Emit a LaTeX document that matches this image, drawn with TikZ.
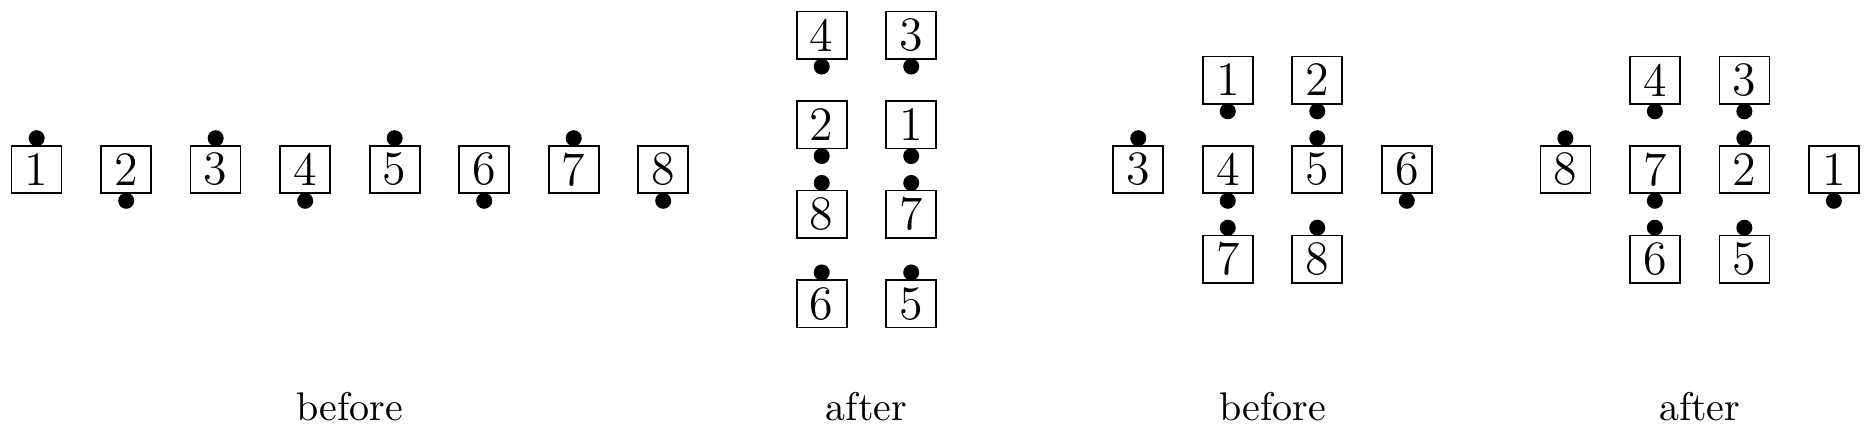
\documentclass[tikz,border=0pt]{standalone}
\usepackage{tikz}
\usetikzlibrary{calc,positioning,shapes}
\tikzset{%
	box/.style   = {draw, rectangle, minimum width=12.5pt, minimum height=11.85pt, inner sep=0pt, font=\large},
	dot/.style   = {circle, fill, inner sep=0pt, minimum size=4pt},
	caption/.style = {anchor=base},
}

\begin{document}
\begin{tikzpicture}[x=0.7864cm,y=0.7864cm]
	\useasboundingbox (-0.410,-2.955) rectangle (20.495,1.894);
	% first row, before
	\foreach \n/\s in {1/90,2/-90,3/90,4/-90,5/90,6/-90,7/90,8/-90}{
		\node[box] (p\n) at (\n-1,0) {\n};
		\node[dot] (dp\n) at ([shift={(\s:1.7pt)}]p\n.\s) {};
	}
	\node[caption] (cp) at (3.5,-2.8) {before};
	
	% two columns, after
	\foreach \n/\x/\y/\s in {4/8.771/1.5/-90,3/9.771/1.5/-90,2/8.771/0.5/-90,1/9.771/0.5/-90,8/8.771/-0.5/90,7/9.771/-0.5/90,6/8.771/-1.5/90,5/9.771/-1.5/90}{
		\node[box] (q\n) at (\x,\y) {\n};
		\node[dot] (dq\n) at ([shift={(\s:1.7pt)}]q\n.\s) {};
	}
	\node[caption] (cq) at (9.271,-2.8) {after};
	
	% cross, before
	\foreach \n/\x/\y/\s in {1/13.308/1/-90,2/14.308/1/-90,3/12.308/0/90,4/13.308/0/-90,5/14.308/0/90,6/15.308/0/-90,7/13.308/-1/90,8/14.308/-1/90}{
		\node[box] (r\n) at (\x,\y) {\n};
		\node[dot] (dr\n) at ([shift={(\s:1.7pt)}]r\n.\s) {};
	}
	\node[caption] (cr) at (13.808,-2.8) {before};
	
	% cross, after
	\foreach \n/\x/\y/\s in {4/18.08/1/-90,3/19.08/1/-90,8/17.08/0/90,7/18.08/0/-90,2/19.08/0/90,1/20.08/0/-90,6/18.08/-1/90,5/19.08/-1/90}{
		\node[box] (s\n) at (\x,\y) {\n};
		\node[dot] (ds\n) at ([shift={(\s:1.7pt)}]s\n.\s) {};
	}
	\node[caption] (cs) at (18.58,-2.8) {after};
\end{tikzpicture}
\end{document}
